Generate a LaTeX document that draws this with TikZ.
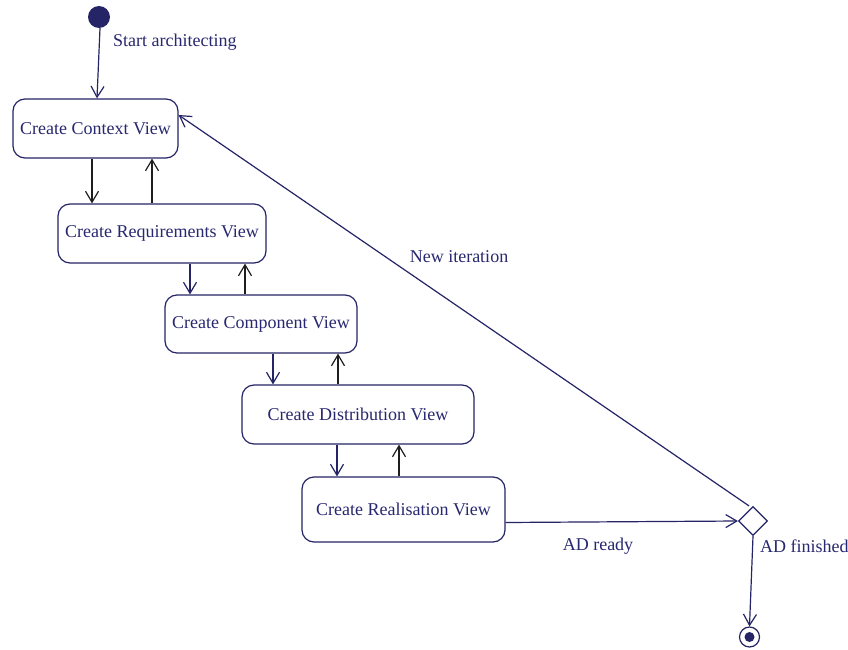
\documentclass[tikz,border=0pt]{standalone}
\usepackage{fontspec}
\setmainfont{Liberation Serif}
\usetikzlibrary{arrows.meta,shapes.geometric}
\definecolor{umlnavy}{RGB}{36,36,102}
\definecolor{umltext}{RGB}{40,40,112}
\definecolor{umldark}{RGB}{30,30,30}
\tikzset{
  activity/.style={draw=umlnavy, line width=1.2pt, rounded corners=12pt,
    text=umltext, font=\fontsize{18}{20}\selectfont, inner sep=0pt},
  lbl/.style={text=umltext, font=\fontsize{18}{20}\selectfont, inner sep=0pt},
  flow/.style={draw=umlnavy, line width=1.2pt,
    -{Straight Barb[length=11pt,width=13pt,line width=1.2pt]}},
  back/.style={flow, draw=umldark},
}
\begin{document}
\begin{tikzpicture}[x=1pt,y=-1pt]
  \useasboundingbox (0,0) rectangle (848,650);
  \fill[white] (0,0) rectangle (848,650);

  % initial and final states
  \node[circle, fill=umlnavy, minimum size=22pt, inner sep=0pt] (start) at (99,17) {};
  \node[circle, draw=umlnavy, line width=1.2pt, minimum size=20pt, inner sep=0pt] (final) at (749.5,637) {};
  \fill[umlnavy] (final.center) circle (5pt);

  % activities
  \node[activity, minimum width=165pt, minimum height=59pt] (b1) at (95.5,128.5) {Create Context View};
  \node[activity, minimum width=208pt, minimum height=59pt] (b2) at (162,233.5) {Create Requirements View};
  \node[activity, minimum width=192pt, minimum height=58pt] (b3) at (261,324) {Create Component View};
  \node[activity, minimum width=232pt, minimum height=59pt] (b4) at (358,414.5) {Create Distribution View};
  \node[activity, minimum width=203pt, minimum height=65pt] (b5) at (403.5,509.5) {Create Realisation View};

  % decision
  \node[diamond, draw=umlnavy, line width=1.2pt, minimum size=29pt, inner sep=0pt] (d) at (753,521) {};

  % labels
  \node[lbl, anchor=west] (lstart) at (113,42) {Start architecting};
  \node[lbl] (liter) at (459,257) {New iteration};
  \node[lbl] (lready) at (598,546) {AD ready};
  \node[lbl, anchor=west] (lfin) at (760,546) {AD finished};

  % flows
  \draw[flow] ([xshift=1pt]start.south) -- ([xshift=1.5pt]b1.north);
  \draw[back] ([xshift=-3.5pt]b1.south) -- ([xshift=-70pt]b2.north);
  \draw[back] ([xshift=-10pt]b2.north) -- ([xshift=56.5pt]b1.south);
  \draw[flow] ([xshift=28pt]b2.south) -- ([xshift=-71pt]b3.north);
  \draw[back] ([xshift=-16pt]b3.north) -- ([xshift=83pt]b2.south);
  \draw[flow] ([xshift=12pt]b3.south) -- ([xshift=-85pt]b4.north);
  \draw[back] ([xshift=-20pt]b4.north) -- ([xshift=77pt]b3.south);
  \draw[flow] ([xshift=-21pt]b4.south) -- ([xshift=-66.5pt]b5.north);
  \draw[back] ([xshift=-4.5pt]b5.north) -- ([xshift=41pt]b4.south);
  \draw[flow] ([yshift=-13pt]b5.east) -- (d.west);
  \draw[flow] ([xshift=-4pt]d.north) -- ([yshift=13.5pt]b1.east);
  \draw[flow] (d.south) -- (final.north);
\end{tikzpicture}
\end{document}
